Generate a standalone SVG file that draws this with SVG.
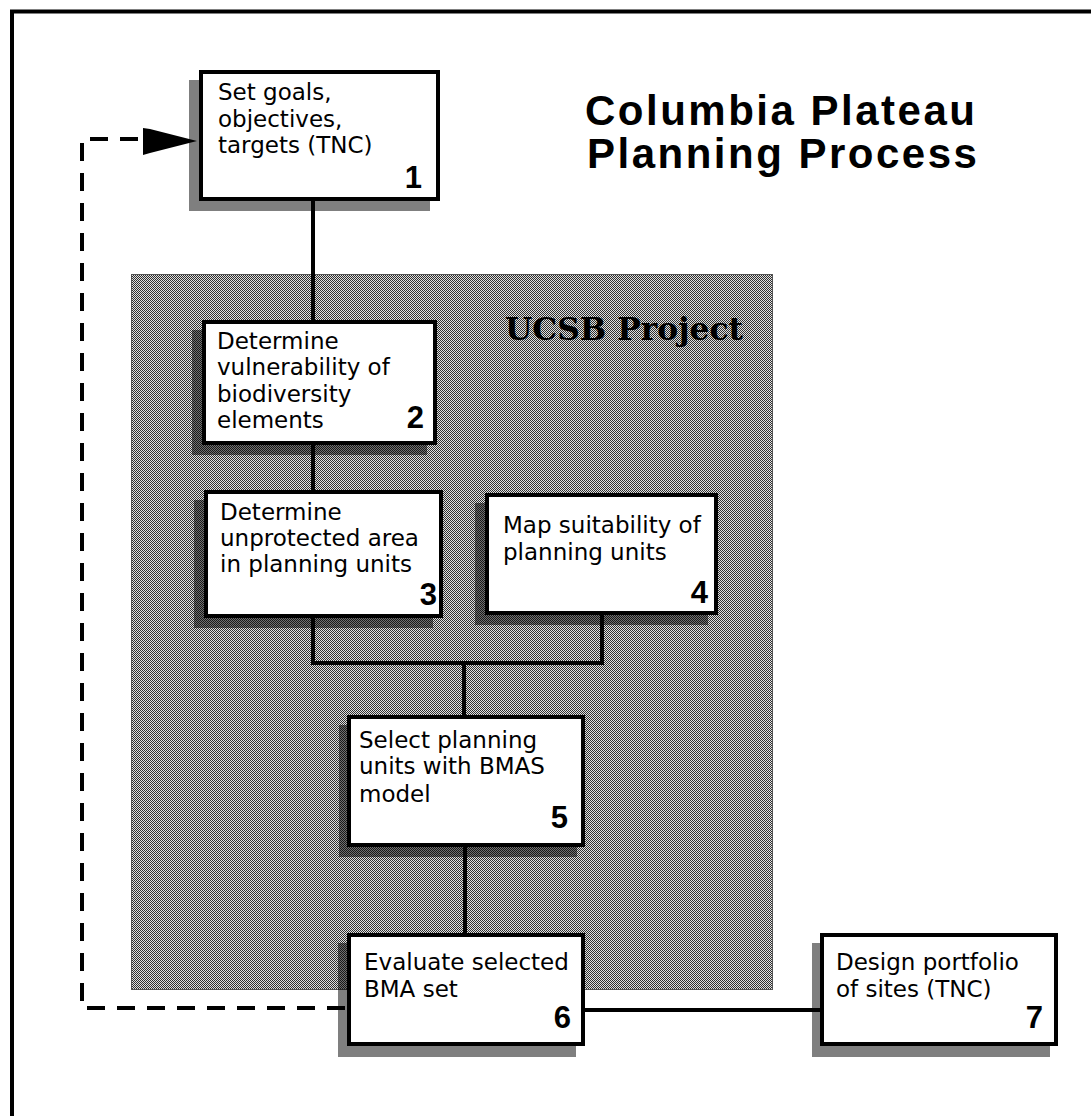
<svg xmlns="http://www.w3.org/2000/svg" width="1091" height="1116" viewBox="0 0 1091 1116">
<style>
.box{fill:#fff;stroke:#000;stroke-width:4}
.sh{fill:#000;fill-opacity:0.5}
.t{font-family:"DejaVu Sans",sans-serif;font-size:23px;fill:#000}
.n{font-family:"Liberation Sans",Arial,sans-serif;font-size:31px;font-weight:bold;fill:#000;text-anchor:end}
.ttl{font-family:"Liberation Sans",Arial,sans-serif;font-size:42px;font-weight:bold;letter-spacing:2.5px;fill:#000}
.c{fill:none;stroke:#000;stroke-width:4}
.d{fill:none;stroke:#000;stroke-width:4;stroke-dasharray:18 12}
</style>
<defs>
<pattern id="dots" width="2" height="2" patternUnits="userSpaceOnUse">
<rect width="2" height="2" fill="#e0e0e0"/>
<rect x="0" y="0" width="1" height="1" fill="#303030"/>
<rect x="1" y="1" width="1" height="1" fill="#303030"/>
</pattern>
</defs>
<rect width="1091" height="1116" fill="#fff"/>
<rect x="12" y="11.5" width="1200" height="1200" fill="none" stroke="#000" stroke-width="4"/>
<g id="title">
<text class="ttl" x="585" y="125">Columbia Plateau</text>
<text class="ttl" x="587" y="168">Planning Process</text>
</g>
<g id="ucsb-project">
<rect x="131.5" y="274.5" width="641" height="715" fill="url(#dots)" stroke="#555" stroke-width="1"/>
<text x="505" y="340" font-family="'DejaVu Serif',serif" font-size="32" font-weight="bold" fill="#000" textLength="238" lengthAdjust="spacingAndGlyphs">UCSB Project</text>
</g>
<g id="shadows">
<rect class="sh" x="189" y="80" width="241" height="131"/>
<rect class="sh" x="192" y="330" width="235" height="125"/>
<rect class="sh" x="194" y="500" width="239" height="128"/>
<rect class="sh" x="475" y="503" width="233" height="122"/>
<rect class="sh" x="339" y="725" width="238" height="132"/>
<rect class="sh" x="338" y="943" width="238" height="114"/>
<rect class="sh" x="812" y="943" width="238" height="114"/>
</g>
<g id="connectors">
<path class="c" d="M313 201 V320"/>
<path class="c" d="M313 445 V490"/>
<path class="c" d="M313 618 V663 H602 V615"/>
<path class="c" d="M464 663 V715"/>
<path class="c" d="M465 847 V933"/>
<path class="c" d="M585 1010 H820"/>
<path class="d" d="M345 1008 H82 V139 H145"/>
<polygon points="143,128 150,129 197,141 150,153 143,155" fill="#000"/>
</g>
<g id="node1">
<rect class="box" x="201" y="72" width="237" height="127"/>
<text class="t" x="218" y="100">Set goals,</text>
<text class="t" x="218" y="127">objectives,</text>
<text class="t" x="218" y="153">targets (TNC)</text>
<text class="n" x="422" y="188">1</text>
</g>
<g id="node2">
<rect class="box" x="204" y="322" width="231" height="121"/>
<text class="t" x="217" y="349">Determine</text>
<text class="t" x="217" y="375">vulnerability of</text>
<text class="t" x="217" y="402">biodiversity</text>
<text class="t" x="217" y="428">elements</text>
<text class="n" x="424" y="428">2</text>
</g>
<g id="node3">
<rect class="box" x="206" y="492" width="235" height="124"/>
<text class="t" x="220" y="520">Determine</text>
<text class="t" x="220" y="546">unprotected area</text>
<text class="t" x="220" y="572">in planning units</text>
<text class="n" x="437" y="605">3</text>
</g>
<g id="node4">
<rect class="box" x="487" y="495" width="229" height="118"/>
<text class="t" x="503" y="533">Map suitability of</text>
<text class="t" x="503" y="560">planning units</text>
<text class="n" x="708" y="603">4</text>
</g>
<g id="node5">
<rect class="box" x="349" y="717" width="234" height="128"/>
<text class="t" x="359" y="748">Select planning</text>
<text class="t" x="359" y="774">units with BMAS</text>
<text class="t" x="359" y="802">model</text>
<text class="n" x="568" y="828">5</text>
</g>
<g id="node6">
<rect class="box" x="349" y="935" width="234" height="109"/>
<text class="t" x="364" y="970">Evaluate selected</text>
<text class="t" x="364" y="997">BMA set</text>
<text class="n" x="571" y="1028">6</text>
</g>
<g id="node7">
<rect class="box" x="822" y="935" width="234" height="109"/>
<text class="t" x="836" y="970">Design portfolio</text>
<text class="t" x="836" y="997">of sites (TNC)</text>
<text class="n" x="1043" y="1028">7</text>
</g>
</svg>
